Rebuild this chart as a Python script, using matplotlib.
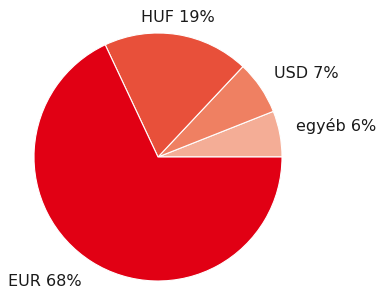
import matplotlib
matplotlib.use('Agg')
import matplotlib.pyplot as plt

labels = ['egyéb', 'USD', 'HUF', 'EUR']
shares = [6, 7, 19, 68]
colors = ['#F4AD96', '#EF8062', '#E8503A', '#E10014']

W, H = 377, 291
fig = plt.figure(figsize=(W / 100, H / 100), dpi=100)
ax = fig.add_axes([0, 0, 1, 1])
ax.set_xlim(0, W)
ax.set_ylim(0, H)
ax.axis('off')

ax.pie(shares, colors=colors, startangle=0, counterclock=True,
       center=(158, H - 157), radius=124,
       wedgeprops=dict(edgecolor='white', linewidth=0.8, alpha=1))
ax.set_xlim(0, W)
ax.set_ylim(0, H)
ax.set_aspect('equal')

# label positions (pixel coords, top-left origin)
pos = [(296, 126, 'left'), (274, 74, 'left'), (178, 17, 'center'), (8, 282, 'left')]
for (x, y, ha), lab, s in zip(pos, labels, shares):
    ax.text(x, H - y, f'{lab} {s}%', ha=ha, va='center', fontsize=11.5,
            family='DejaVu Sans', color='#1a1a1a')

fig.savefig('out.png', dpi=100)
